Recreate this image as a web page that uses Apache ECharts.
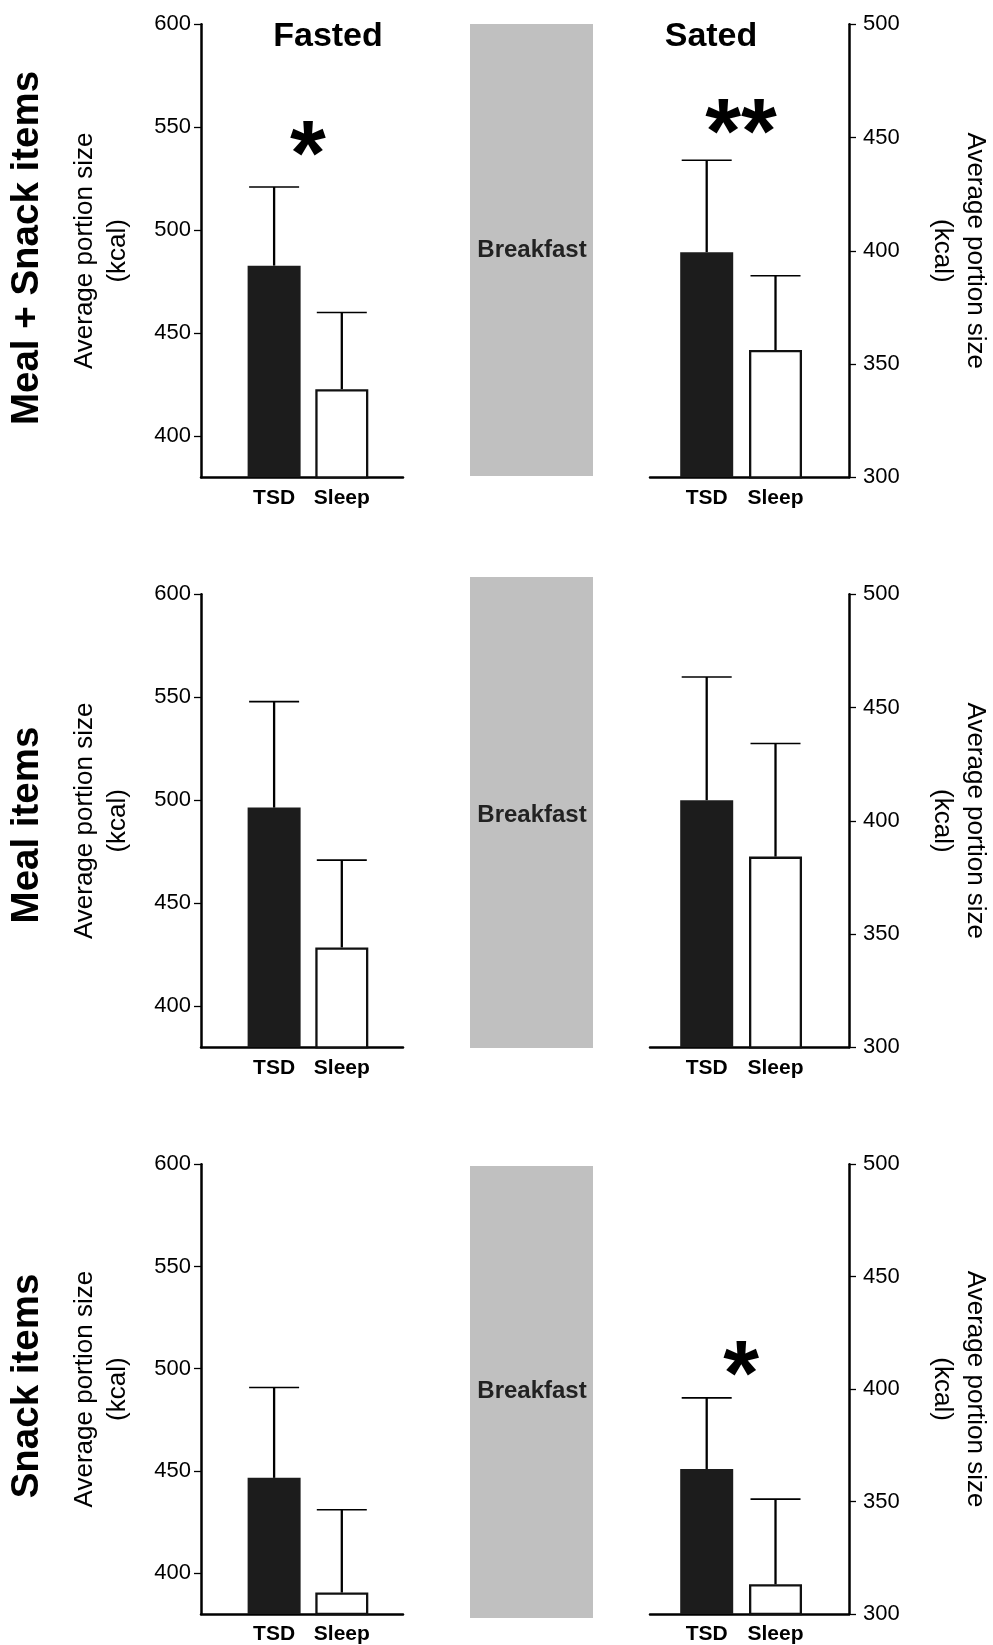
<!DOCTYPE html>
<html><head><meta charset="utf-8">
<script src="https://cdn.jsdelivr.net/npm/echarts@6/dist/echarts.min.js"></script>
<style>html,body{margin:0;padding:0;background:#fff}#c{width:993px;height:1645px}</style>
</head><body><div id="c"></div>
<script>
// ---------------- data ----------------
const categories = ['TSD', 'Sleep'];
const rowTitles = ['Meal + Snack items', 'Meal items', 'Snack items'];
const conditionTitles = ['Fasted', 'Sated'];
const leftTicks = [400, 450, 500, 550, 600];
const rightTicks = [300, 350, 400, 450, 500];
const fastedMean = [[482.8, 422.8], [496.4, 428.5], [446.6, 390.5]];
const fastedUpper = [[521.0, 460.0], [547.9, 470.9], [490.8, 431.0]];
const satedMean = [[399.4, 356.2], [409.1, 384.2], [364.5, 313.2]];
const satedUpper = [[440.0, 389.0], [463.5, 434.1], [396.1, 351.1]];
const fastedSig = [['*', 543], null, null];
const satedSig = [['**', 458], null, ['*', 412.5]];
const breakfastLabel = 'Breakfast';
const yName = 'Average portion size\n(kcal)';

// ---------------- layout ----------------
const FONT = '"Liberation Sans", Arial, Helvetica, sans-serif';
const rowTop = [24.3, 594.3, 1164.3];
const plotH = 453;
const panels = [
  {left: 201, width: 202, xMin: -0.08, xMax: 2.904, side: 'left', yMin: 380, yMax: 600, ticks: leftTicks,
   mean: fastedMean, upper: fastedUpper, sig: fastedSig},
  {left: 650, width: 201, xMin: 0.176, xMax: 3.068, side: 'right', yMin: 300, yMax: 500, ticks: rightTicks,
   mean: satedMean, upper: satedUpper, sig: satedSig}
];
const grayBox = [{y: 24, h: 452}, {y: 577, h: 471}, {y: 1166, h: 452}];
const breakfastY = [250.5, 815, 1391.5];
const rowTitleY = [248, 825, 1386];

const grid = [], xAxis = [], yAxis = [], series = [];
let idx = 0;
for (let r = 0; r < 3; r++) {
  panels.forEach((p) => {
    grid.push({left: p.left, top: rowTop[r], width: p.width, height: plotH, containLabel: false});
    xAxis.push({
      type: 'value', gridIndex: idx, min: p.xMin, max: p.xMax,
      splitLine: {show: false},
      axisLine: {show: true, onZero: false, lineStyle: {color: '#000', width: 2.5}},
      axisTick: {show: false},
      axisLabel: {
        customValues: [1, 2],
        formatter: (v) => categories[Math.round(v) - 1] || '',
        fontFamily: FONT, fontWeight: 'bold', fontSize: 21, color: '#000', margin: 10
      }
    });
    const isLeft = p.side === 'left';
    yAxis.push({
      type: 'value', gridIndex: idx, position: p.side, min: p.yMin, max: p.yMax,
      splitLine: {show: false},
      axisLine: {show: true, onZero: false, lineStyle: {color: '#000', width: 2.5}},
      axisTick: {show: true, customValues: p.ticks, length: 7, lineStyle: {color: '#000', width: 1.3}},
      axisLabel: {customValues: p.ticks, fontFamily: FONT, fontSize: 22, color: '#000', margin: isLeft ? 10 : 14},
      name: yName, nameLocation: 'middle', nameGap: isLeft ? 67 : 77,
      nameRotate: isLeft ? 90 : -90,
      nameTextStyle: {fontFamily: FONT, fontSize: 26, color: '#000', lineHeight: 33}
    });
    const m = p.mean[r], u = p.upper[r];
    series.push({
      type: 'bar', xAxisIndex: idx, yAxisIndex: idx, barWidth: 53, z: 2,
      data: [
        {value: [1, m[0]], itemStyle: {color: '#1c1c1c', borderColor: '#1c1c1c', borderWidth: 0}},
        {value: [2, m[1]], itemStyle: {color: '#ffffff', borderColor: '#111', borderWidth: 2.3}}
      ]
    });
    series.push({
      type: 'custom', xAxisIndex: idx, yAxisIndex: idx, z: 3,
      data: [[1, m[0], u[0]], [2, m[1], u[1]]],
      renderItem: (params, api) => {
        const x = api.value(0);
        const p0 = api.coord([x, api.value(1)]);
        const p1 = api.coord([x, api.value(2)]);
        const hw = 25;
        return {type: 'group', children: [
          {type: 'line', shape: {x1: p0[0], y1: p0[1], x2: p1[0], y2: p1[1]}, style: {stroke: '#000', lineWidth: 2.3}},
          {type: 'line', shape: {x1: p1[0] - hw, y1: p1[1], x2: p1[0] + hw, y2: p1[1]}, style: {stroke: '#000', lineWidth: 1.6}}
        ]};
      }
    });
    const s = p.sig[r];
    if (s) {
      series.push({
        type: 'custom', xAxisIndex: idx, yAxisIndex: idx, z: 4,
        data: [[1.5, s[1]]],
        renderItem: (params, api) => {
          const c = api.coord([api.value(0), api.value(1)]);
          const fs = 92;
          return {type: 'text', x: c[0], y: c[1] + fs * 0.2, style: {
            text: s[0], font: 'bold ' + fs + 'px ' + FONT, fill: '#000',
            align: 'center', verticalAlign: 'middle', textAlign: 'center', textVerticalAlign: 'middle'
          }};
        }
      });
    }
    idx++;
  });
}

const graphic = [];
for (let r = 0; r < 3; r++) {
  graphic.push({type: 'rect', left: 470, top: grayBox[r].y, shape: {width: 123, height: grayBox[r].h},
    style: {fill: '#c0c0c0'}, z: 0});
  graphic.push({type: 'text', x: 532, y: breakfastY[r], z: 1, style: {
    text: breakfastLabel, font: 'bold 24px ' + FONT, fill: '#222', align: 'center', verticalAlign: 'middle'}});
  graphic.push({type: 'text', x: 27, y: rowTitleY[r], rotation: Math.PI / 2, z: 1, style: {
    text: rowTitles[r], font: 'bold 38.5px ' + FONT, fill: '#000', align: 'center', verticalAlign: 'middle'}});
}
graphic.push({type: 'text', x: 328, y: 37, style: {text: conditionTitles[0], font: 'bold 34px ' + FONT, fill: '#000', align: 'center', verticalAlign: 'middle'}});
graphic.push({type: 'text', x: 711, y: 37, style: {text: conditionTitles[1], font: 'bold 34px ' + FONT, fill: '#000', align: 'center', verticalAlign: 'middle'}});

const chart = echarts.init(document.getElementById('c'), null, {renderer: 'canvas'});
chart.setOption({
  backgroundColor: '#fff',
  animation: false,
  grid, xAxis, yAxis, series, graphic
});
</script>
</body></html>
